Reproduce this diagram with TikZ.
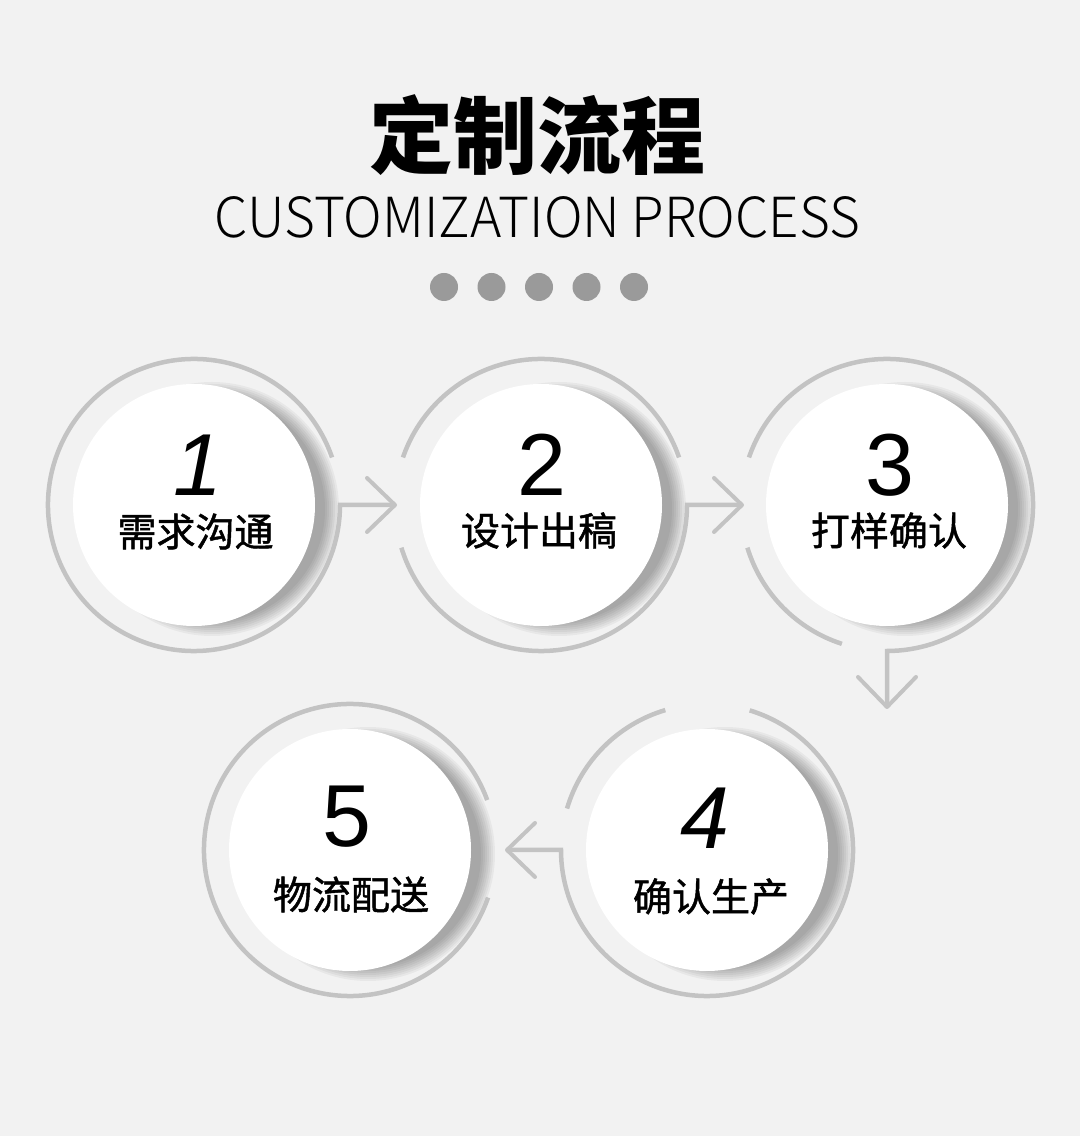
\documentclass[tikz,border=0pt]{standalone}
\usepackage{fontspec}
\setmainfont{Liberation Sans}
\newfontfamily\cjk{Noto Sans CJK SC}
\newfontfamily\cjkm{Noto Sans CJK SC}[FakeBold=1.2]
\newfontfamily\cjkl{Noto Sans CJK SC Light}
\usetikzlibrary{calc}
\definecolor{bgc}{HTML}{F2F2F2}
\definecolor{ringc}{HTML}{C3C3C3}
\definecolor{dotc}{HTML}{9A9A9A}
\begin{document}
\begin{tikzpicture}[x=1pt,y=1pt,
  ring/.style={draw=ringc, line width=4.5pt},
  arr/.style={draw=ringc, line width=4pt, line cap=round, line join=round},
  disc/.style={circle, fill=white, minimum size=242pt, inner sep=0pt},
  num/.style={font=\fontsize{88}{88}\selectfont, text=black, inner sep=0pt},
  numi/.style={font=\fontsize{88}{88}\selectfont\itshape, text=black, inner sep=0pt},
  lab/.style={font=\cjkm\fontsize{39}{39}\selectfont, text=black, inner sep=0pt},
  dot/.style={circle, fill=dotc, minimum size=28pt, inner sep=0pt},
]
\fill[bgc] (0,0) rectangle (1080,1136);
\useasboundingbox (0,0) rectangle (1080,1136);

% header
\node[inner sep=0pt] (title) at (537.5,1001) {\cjk\bfseries\fontsize{84}{84}\selectfont 定制流程};
\node[inner sep=0pt] (sub) at (537.5,918.5) {\resizebox{645pt}{41pt}{\cjkl\fontsize{56}{56}\selectfont CUSTOMIZATION PROCESS}};
\foreach \i/\x in {1/444,2/491.5,3/539,4/586.5,5/634}
  \node[dot] (d\i) at (\x,849) {};

% centres
\coordinate (p1) at (194,631);
\coordinate (p2) at (541,631);
\coordinate (p3) at (887,631);
\coordinate (p4) at (707,286);
\coordinate (p5) at (350,286);
% arrow tips
\coordinate (t1) at (395,631);
\coordinate (t2) at (742,631);
\coordinate (t3) at (887,429);
\coordinate (t4) at (507,286);

% shadows
\foreach \c in {p1,p2,p3,p4,p5}
  \foreach \k in {0,...,7}
    \fill[black, opacity=0.042] ($(\c)+(18,-4)$) circle ({113+2*\k});

% rings
\draw[ring] (p1) ++(19:146) arc[start angle=19, end angle=360, radius=146] -- (t1);
\draw[ring] (p2) ++(19:146) arc[start angle=19, end angle=161, radius=146];
\draw[ring] (p2) ++(197:146) arc[start angle=197, end angle=360, radius=146] -- (t2);
\draw[ring] (p3) ++(197:146) arc[start angle=197, end angle=252, radius=146];
\draw[ring] (p3) ++(161:146) arc[start angle=161, end angle=-90, radius=146] -- (t3);
\draw[ring] (p4) ++(106.6:146) arc[start angle=106.6, end angle=163.5, radius=146];
\draw[ring] (p4) ++(73:146) arc[start angle=73, end angle=-180, radius=146] -- (t4);
\draw[ring] (p5) ++(20:146) arc[start angle=20, end angle=341, radius=146];

% arrow heads
\draw[arr] ($(t1)+(-28,27)$) -- (t1) -- ($(t1)+(-28,-27)$);
\draw[arr] ($(t2)+(-28,27)$) -- (t2) -- ($(t2)+(-28,-27)$);
\draw[arr] ($(t3)+(-29,30)$) -- (t3) -- ($(t3)+(29,30)$);
\draw[arr] ($(t4)+(28,27)$) -- (t4) -- ($(t4)+(28,-27)$);

% discs
\node[disc] (c1) at (p1) {};
\node[disc] (c2) at (p2) {};
\node[disc] (c3) at (p3) {};
\node[disc] (c4) at (p4) {};
\node[disc] (c5) at (p5) {};

% numbers and labels
\node[numi] (n1) at (198,671) {1};
\node[lab]  (l1) at (195.5,604.5) {需求沟通};
\node[num]  (n2) at (542,671) {2};
\node[lab]  (l2) at (539,605.5) {设计出稿};
\node[num]  (n3) at (890,671) {3};
\node[lab]  (l3) at (889,605.5) {打样确认};
\node[numi] (n4) at (705,317.5) {4};
\node[lab]  (l4) at (711,239.5) {确认生产};
\node[num]  (n5) at (347,319.5) {5};
\node[lab]  (l5) at (351,241.5) {物流配送};
\end{tikzpicture}
\end{document}
